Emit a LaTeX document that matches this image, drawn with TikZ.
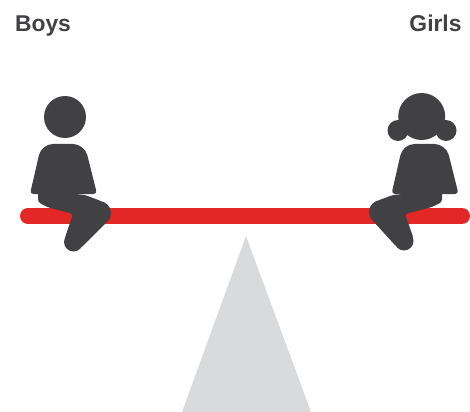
\documentclass[tikz,border=0pt]{standalone}
\usepackage{fontspec}
\setmainfont{Liberation Sans}
\usepackage{xcolor}
\definecolor{figgray}{HTML}{414042}
\definecolor{beamred}{HTML}{E32726}
\definecolor{basegray}{HTML}{D9DADC}
\tikzset{
person/.style={fill=figgray},
sidelabel/.style={font=\fontsize{13}{15}\selectfont\bfseries,text=figgray,inner sep=0pt,anchor=base}
}
\begin{document}
\begin{tikzpicture}[x=0.02cm,y=-0.02cm]
\useasboundingbox (0,0) rectangle (470,412);
\node[sidelabel] (boys) at (43,32){Boys};
\node[sidelabel] (girls) at (435.5,32){Girls};
\fill[basegray](246,236)--(311,412)--(182,412)--cycle;
\draw[beamred,line width=0.32cm,line cap=round](28,216)--(462,216);
% boy
\fill[person](65,117)circle(21);
\fill[person,rounded corners=6.5pt](41.5,144)--(84.5,144)[rounded corners=2pt]--(97,194)--(30,194)[rounded corners=6.5pt]--cycle;
\fill[person](99,213)circle(12);
\fill[person](73.5,242)circle(9.5);
\fill[person,rounded corners=1.5pt](38,190)--(85,195)--(102.2,201.5)--(108,220.9)--(80.6,248.3)--(64.5,239)--(73,214)--(47,207)--(38,202)--cycle;
% girl
\fill[person](421.7,116.5)circle(23.5);
\fill[person](398,130.5)circle(10.5);
\fill[person](446,130.5)circle(10.5);
\fill[person,rounded corners=6.5pt](403,144)--(446,144)[rounded corners=2pt]--(458.5,194)--(391.5,194)[rounded corners=6.5pt]--cycle;
\fill[person](381,212)circle(12);
\fill[person](404,241)circle(9.5);
\fill[person,rounded corners=1.5pt](442,190)--(393,195)--(377.8,200.5)--(371.6,219.4)--(396.6,246.9)--(413.5,238)--(405,214)--(432,207)--(442,202)--cycle;
\end{tikzpicture}
\end{document}
